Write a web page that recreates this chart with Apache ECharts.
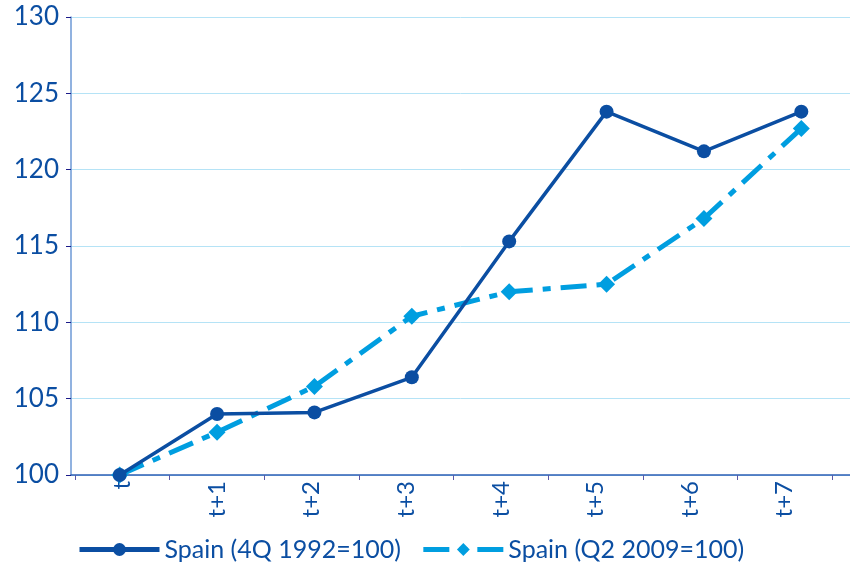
<!DOCTYPE html>
<html>
<head>
<meta charset="utf-8">
<script src="https://cdn.jsdelivr.net/npm/echarts@6/dist/echarts.min.js"></script>
<style>
    html, body { margin: 0; padding: 0; background: #fff; }
    #chart { width: 850px; height: 568px; }
</style>
</head>
<body>
<div id="chart"></div>
<script>
var categories = ['t', 't+1', 't+2', 't+3', 't+4', 't+5', 't+6', 't+7'];
var spain1992 = [100, 104.0, 104.1, 106.4, 115.3, 123.8, 121.2, 123.8];  // 4Q 1992=100
var spain2009 = [100, 102.8, 105.8, 110.4, 112.0, 112.5, 116.8, 122.7];  // Q2 2009=100
var yTicks = [100, 130, 5];  // min, max, step

var darkBlue = '#0b4ea2';
var lightBlue = '#009ee0';
var textBlue = '#0b4ea2';

var chart = echarts.init(document.getElementById('chart'));

var option = {
    backgroundColor: '#ffffff',
    animation: false,
    textStyle: { fontFamily: 'Lato' },
    grid: [
        // grid for the data (points)
        { left: 71, right: -5, top: 17, bottom: 93 },
        // grid for the tick labels, they sit a bit off the points in the original
        { left: 75, right: 18, top: 17, bottom: 93 }
    ],
    legend: {
        left: 72,
        bottom: 1,
        itemWidth: 80,
        itemHeight: 16,
        itemGap: 20,
        lineStyle: { width: 5 },
        textStyle: { color: textBlue, fontSize: 25, fontFamily: 'Lato' },
        data: ['Spain (4Q 1992=100)', 'Spain (Q2 2009=100)']
    },
    xAxis: [
        {
            type: 'category',
            gridIndex: 0,
            data: categories,
            boundaryGap: true,
            axisLine: { lineStyle: { color: '#2c5fb5', width: 1.5 } },
            axisTick: { show: false },
            axisLabel: { show: false }
        },
        {
            type: 'category',
            gridIndex: 1,
            data: categories,
            boundaryGap: true,
            axisLine: { show: false },
            axisTick: { show: true, length: 5, lineStyle: { color: '#5a5aa8' } },
            axisLabel: {
                rotate: 90,
                color: textBlue,
                fontSize: 24,
                margin: 6,
                interval: 0
            }
        }
    ],
    yAxis: [
        {
            type: 'value',
            gridIndex: 0,
            min: yTicks[0],
            max: yTicks[1],
            interval: yTicks[2],
            axisLine: { show: true, lineStyle: { color: '#6d98d6', width: 1.5 } },
            axisTick: { show: true, length: 5, lineStyle: { color: '#1b1b8a' } },
            axisLabel: { color: textBlue, fontSize: 26, margin: 12 },
            splitLine: { lineStyle: { color: '#b5e3f6', width: 1 } }
        },
        {
            type: 'value',
            gridIndex: 1,
            min: yTicks[0],
            max: yTicks[1],
            interval: yTicks[2],
            show: false
        }
    ],
    series: [
        {
            name: 'Spain (4Q 1992=100)',
            type: 'line',
            xAxisIndex: 0,
            yAxisIndex: 0,
            data: spain1992,
            symbol: 'circle',
            symbolSize: 14,
            z: 3,
            itemStyle: { color: darkBlue },
            lineStyle: { color: darkBlue, width: 3.5 }
        },
        {
            name: 'Spain (Q2 2009=100)',
            type: 'line',
            xAxisIndex: 0,
            yAxisIndex: 0,
            data: spain2009,
            symbol: 'diamond',
            symbolSize: 17,
            z: 2,
            itemStyle: { color: lightBlue },
            lineStyle: { color: lightBlue, width: 5, type: [26, 10, 8, 10] }
        }
    ]
};

chart.setOption(option);
</script>
</body>
</html>
